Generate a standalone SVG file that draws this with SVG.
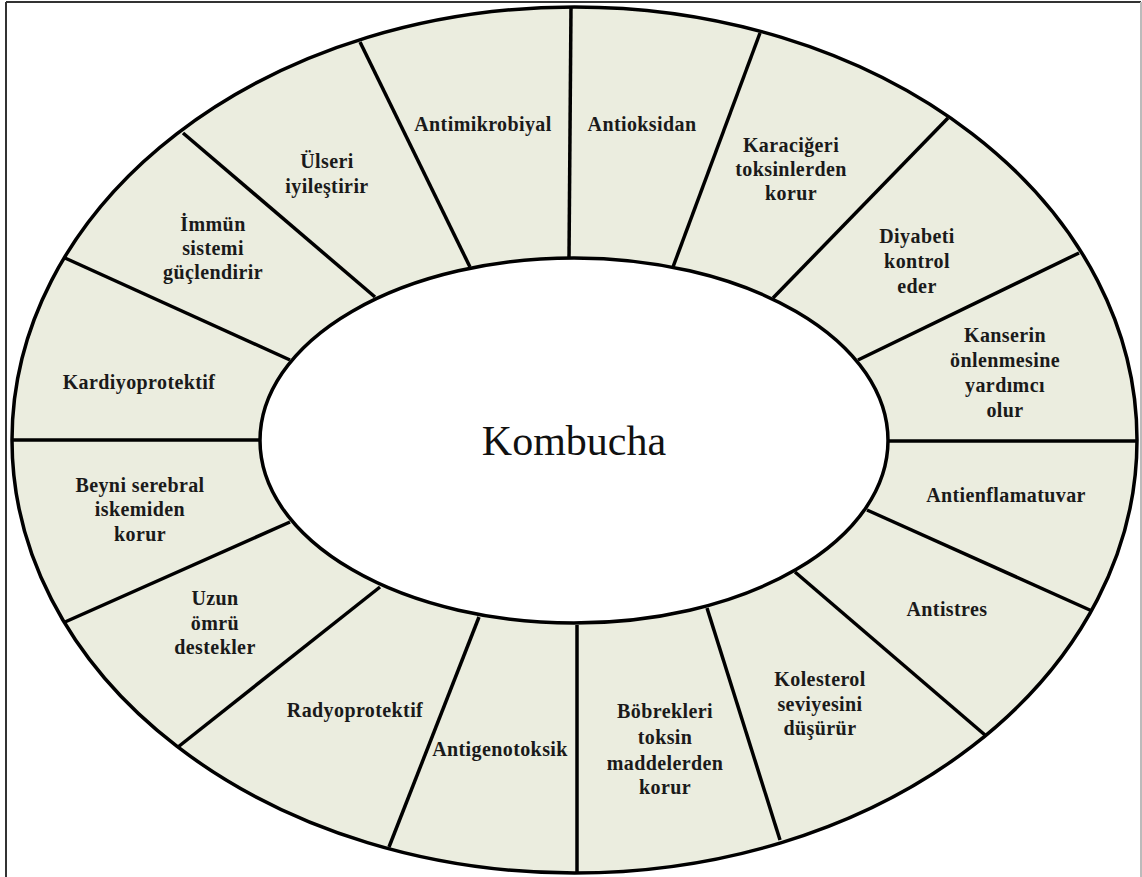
<svg xmlns="http://www.w3.org/2000/svg" width="1142" height="877" viewBox="0 0 1142 877">
<style>
.ring{fill:#EBEDDF;stroke:#000;stroke-width:3.5}
.hole{fill:#fff;stroke:#000;stroke-width:3.5}
.div line{stroke:#000;stroke-width:3.5}
.lbl{font-family:"Liberation Serif","Times New Roman",serif;font-weight:bold;font-size:20px;letter-spacing:0.4px;fill:#1a1a1a;text-anchor:middle}
.title{font-family:"Liberation Serif","Times New Roman",serif;font-size:42px;fill:#111;text-anchor:middle}
</style>
<rect x="0" y="0" width="1142" height="877" fill="#fff"/>
<line x1="6" y1="2" x2="1141" y2="2" stroke="#333" stroke-width="2"/>
<line x1="6" y1="2" x2="6" y2="877" stroke="#333" stroke-width="2"/>
<line x1="1141" y1="2" x2="1141" y2="877" stroke="#bbb" stroke-width="2"/>
<ellipse class="ring" cx="574.5" cy="440" rx="562.5" ry="433"/>
<g id="connectors" class="div">
<line x1="571" y1="7" x2="569" y2="258"/>
<line x1="760" y1="33" x2="673" y2="267"/>
<line x1="948" y1="118" x2="773" y2="298"/>
<line x1="1079" y1="253" x2="858" y2="360"/>
<line x1="1137" y1="441" x2="888" y2="441"/>
<line x1="1092" y1="611" x2="867" y2="510"/>
<line x1="985" y1="735" x2="795" y2="572"/>
<line x1="780" y1="840" x2="707" y2="608"/>
<line x1="577" y1="873" x2="577" y2="625"/>
<line x1="389" y1="847" x2="479" y2="617"/>
<line x1="178" y1="747" x2="380" y2="587"/>
<line x1="65" y1="622" x2="290" y2="522"/>
<line x1="12" y1="440" x2="260" y2="440"/>
<line x1="65" y1="258" x2="290" y2="360"/>
<line x1="183" y1="133" x2="375" y2="297"/>
<line x1="360" y1="42" x2="470" y2="267"/>
</g>
<g id="center">
<ellipse class="hole" cx="574" cy="440.5" rx="314" ry="182.5"/>
<text class="title" x="574" y="455">Kombucha</text>
</g>
<g id="antimikrobiyal"><text class="lbl" x="483" y="131">Antimikrobiyal</text></g>
<g id="antioksidan"><text class="lbl" x="642" y="131">Antioksidan</text></g>
<g id="karaciger"><text class="lbl" x="791" y="152">Karaciğeri</text><text class="lbl" x="791" y="176">toksinlerden</text><text class="lbl" x="791" y="200">korur</text></g>
<g id="diyabet"><text class="lbl" x="917" y="243">Diyabeti</text><text class="lbl" x="917" y="268">kontrol</text><text class="lbl" x="917" y="293">eder</text></g>
<g id="kanser"><text class="lbl" x="1005" y="342">Kanserin</text><text class="lbl" x="1005" y="367">önlenmesine</text><text class="lbl" x="1005" y="392">yardımcı</text><text class="lbl" x="1005" y="417">olur</text></g>
<g id="antienflamatuvar"><text class="lbl" x="1006" y="502">Antienflamatuvar</text></g>
<g id="antistres"><text class="lbl" x="947" y="616">Antistres</text></g>
<g id="kolesterol"><text class="lbl" x="820" y="686">Kolesterol</text><text class="lbl" x="820" y="711">seviyesini</text><text class="lbl" x="820" y="735">düşürür</text></g>
<g id="bobrek"><text class="lbl" x="665" y="718">Böbrekleri</text><text class="lbl" x="665" y="744">toksin</text><text class="lbl" x="665" y="770">maddelerden</text><text class="lbl" x="665" y="794">korur</text></g>
<g id="antigenotoksik"><text class="lbl" x="500" y="756">Antigenotoksik</text></g>
<g id="radyoprotektif"><text class="lbl" x="355" y="717">Radyoprotektif</text></g>
<g id="uzun"><text class="lbl" x="215" y="605">Uzun</text><text class="lbl" x="215" y="630">ömrü</text><text class="lbl" x="215" y="654">destekler</text></g>
<g id="beyni"><text class="lbl" x="140" y="492">Beyni serebral</text><text class="lbl" x="140" y="516">iskemiden</text><text class="lbl" x="140" y="541">korur</text></g>
<g id="kardiyoprotektif"><text class="lbl" x="139" y="389">Kardiyoprotektif</text></g>
<g id="immun"><text class="lbl" x="213" y="231">İmmün</text><text class="lbl" x="213" y="255">sistemi</text><text class="lbl" x="213" y="279">güçlendirir</text></g>
<g id="ulser"><text class="lbl" x="327" y="168">Ülseri</text><text class="lbl" x="327" y="193">iyileştirir</text></g>
</svg>
